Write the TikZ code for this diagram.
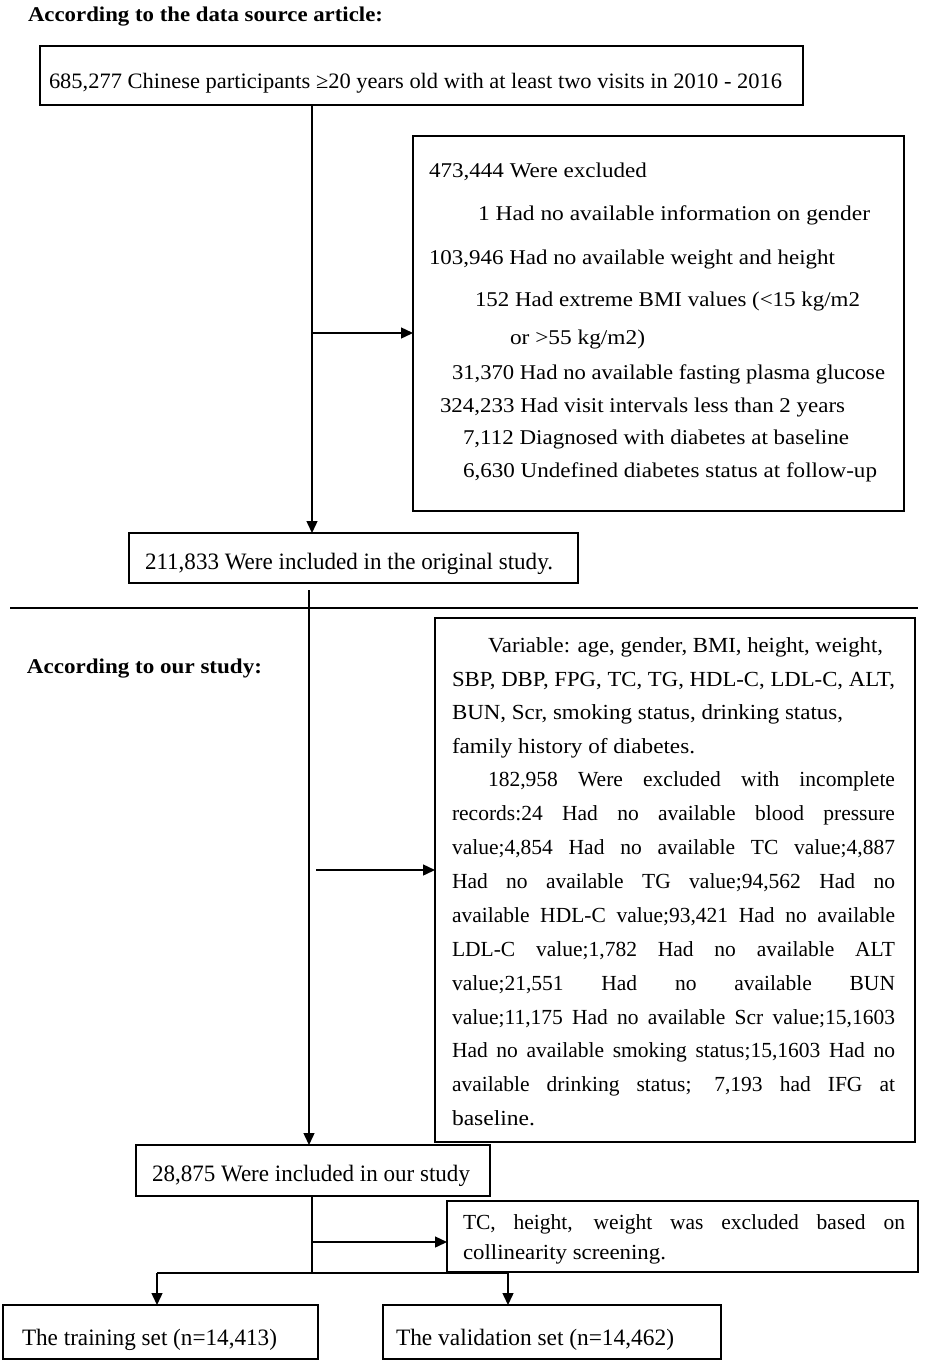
\documentclass[tikz,border=0pt]{standalone}
\usepackage{fontspec}
\setmainfont{Liberation Serif}
\usepackage{graphicx}
\usetikzlibrary{arrows.meta}
\newlength\jlw
\newcommand\fitw[2]{\resizebox{#1pt}{\height}{#2}}
\newcommand\jl[2]{\settowidth\jlw{#2}\ifdim\jlw>#1pt\relax\resizebox{#1pt}{\height}{#2}\else\makebox[#1pt][s]{#2}\fi}
\tikzset{
  box/.style={draw=black, line width=1.5pt, inner sep=0pt, outer sep=0pt, anchor=north west, rectangle},
  txt/.style={anchor=base west, inner sep=0pt, outer sep=0pt},
  ex/.style={txt, font=\fontsize{21}{25}\selectfont},
  vb/.style={txt, font=\fontsize{21.5}{25}\selectfont},
  big/.style={txt, font=\fontsize{23.5}{28}\selectfont},
  hd/.style={txt, font=\bfseries\fontsize{21}{25}\selectfont},
  conn/.style={draw=black, line width=1.4pt},
  arr/.style={conn, -{Triangle[length=12pt,width=11pt]}}
}
\begin{document}
\begin{tikzpicture}[x=1pt,y=-1pt]
\useasboundingbox (0,0) rectangle (935,1369);
\fill[white] (0,0) rectangle (935,1369);

% headers
\node[hd] (h1) at (28,21) {\fitw{355}{According to the data source article:}};
\node[hd] (h2) at (27,673) {\fitw{235}{According to our study:}};

% boxes
\node[box, minimum width=763pt, minimum height=59pt] (b1) at (40,46) {};
\node[box, minimum width=491pt, minimum height=375pt] (bx) at (413,136) {};
\node[box, minimum width=449pt, minimum height=50pt] (b2) at (129,533) {};
\node[box, minimum width=480pt, minimum height=524pt] (b3) at (435,618) {};
\node[box, minimum width=354pt, minimum height=51pt] (b4) at (136,1145) {};
\node[box, minimum width=471pt, minimum height=71pt] (b5) at (447,1201) {};
\node[box, minimum width=315pt, minimum height=54pt] (b6) at (3,1305) {};
\node[box, minimum width=338pt, minimum height=54pt] (b7) at (383,1305) {};

% separator
\coordinate (s1) at (10,608);
\coordinate (s2) at (918,608);
\draw[conn] (s1) -- (s2);

% box texts
\node[txt, font=\fontsize{22}{26}\selectfont] (t1) at (49,88) {\fitw{733}{685,277 Chinese participants ≥20 years old with at least two visits in 2010 - 2016}};

\node[ex] (e1) at (429,177) {\fitw{218}{473,444 Were excluded}};
\node[ex] (e2) at (478,220) {\fitw{392}{1 Had no available information on gender}};
\node[ex] (e3) at (429,264) {\fitw{406}{103,946 Had no available weight and height}};
\node[ex] (e4) at (475,306) {\fitw{385}{152 Had extreme BMI values (<15 kg/m2}};
\node[ex] (e5) at (510,344) {\fitw{135}{or >55 kg/m2)}};
\node[ex] (e6) at (452,379) {\fitw{433}{31,370 Had no available fasting plasma glucose}};
\node[ex] (e7) at (440,412) {\fitw{405}{324,233 Had visit intervals less than 2 years}};
\node[ex] (e8) at (463,444) {\fitw{386}{7,112 Diagnosed with diabetes at baseline}};
\node[ex] (e9) at (463,477) {\fitw{414}{6,630 Undefined diabetes status at follow-up}};

\node[big] (t2) at (145,569) {\fitw{408}{211,833 Were included in the original study.}};

\node[vb] (v1) at (488,652) {\fitw{395}{Variable: age, gender, BMI, height, weight,}};
\node[vb] (v2) at (452,686) {\fitw{443}{SBP, DBP, FPG, TC, TG, HDL-C, LDL-C, ALT,}};
\node[vb] (v3) at (452,719) {\fitw{391}{BUN, Scr, smoking status, drinking status,}};
\node[vb] (v4) at (452,753) {\fitw{243}{family history of diabetes.}};
\node[vb] (v5) at (488,786) {\jl{407}{182,958 Were excluded with incomplete}};
\node[vb] (v6) at (452,820) {\jl{443}{records:24 Had no available blood pressure}};
\node[vb] (v7) at (452,854) {\jl{443}{value;4,854 Had no available TC value;4,887}};
\node[vb] (v8) at (452,888) {\jl{443}{Had no available TG value;94,562 Had no}};
\node[vb] (v9) at (452,922) {\jl{443}{available HDL-C value;93,421 Had no available}};
\node[vb] (v10) at (452,956) {\jl{443}{LDL-C value;1,782 Had no available ALT}};
\node[vb] (v11) at (452,990) {\jl{443}{value;21,551 Had no available BUN}};
\node[vb] (v12) at (452,1024) {\jl{443}{value;11,175 Had no available Scr value;15,1603}};
\node[vb] (v13) at (452,1057) {\jl{443}{Had no available smoking status;15,1603 Had no}};
\node[vb] (v14) at (452,1091) {\jl{443}{available drinking status; 7,193 had IFG at}};
\node[vb] (v15) at (452,1125) {\fitw{83}{baseline.}};

\node[big] (t4) at (152,1181) {\fitw{318}{28,875 Were included in our study}};

\node[vb] (c1) at (463,1229) {\jl{442}{TC, height, weight was excluded based on}};
\node[vb] (c2) at (463,1259) {\fitw{203}{collinearity screening.}};

\node[big] (t6) at (22,1345) {\fitw{255}{The training set (n=14,413)}};
\node[big] (t7) at (396,1345) {\fitw{278}{The validation set (n=14,462)}};

% connectors
\coordinate (x1) at (312,0);
\draw[arr] (b1.south -| x1) -- (b2.north -| x1);
\coordinate (a1) at (312,333);
\draw[arr] (a1) -- (a1 -| bx.west);

\coordinate (x2) at (309,590);
\draw[arr] (x2) -- (x2 |- b4.north);
\coordinate (a2) at (316,870);
\draw[arr] (a2) -- (a2 -| b3.west);

\coordinate (x3) at (312,1273);
\draw[conn] (b4.south -| x3) -- (x3);
\coordinate (a3) at (312,1242);
\draw[arr] (a3) -- (a3 -| b5.west);
\coordinate (f1) at (157,1273);
\coordinate (f2) at (508,1273);
\draw[conn] (f1) -- (f2);
\draw[arr] (f1) -- (f1 |- b6.north);
\draw[arr] (f2) -- (f2 |- b7.north);
\end{tikzpicture}
\end{document}
